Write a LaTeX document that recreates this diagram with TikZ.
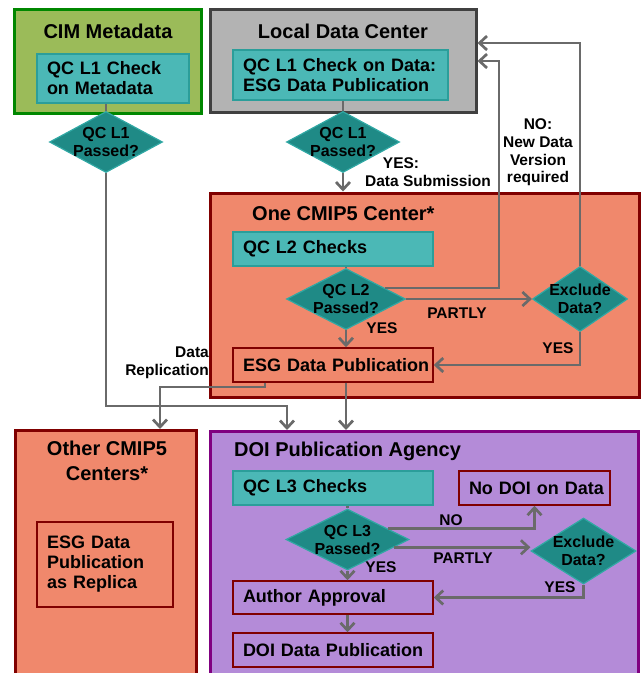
\documentclass[tikz,border=0pt]{standalone}
\usepackage{fontspec}
\setmainfont{Liberation Sans}
\usetikzlibrary{arrows.meta,calc,shapes.geometric}
\definecolor{cimfill}{RGB}{155,187,89}
\definecolor{cimdraw}{RGB}{0,135,0}
\definecolor{ldcfill}{RGB}{179,179,179}
\definecolor{ldcdraw}{RGB}{64,64,64}
\definecolor{qcfill}{RGB}{75,184,182}
\definecolor{qcdraw}{RGB}{43,158,154}
\definecolor{diafill}{RGB}{31,138,134}
\definecolor{diadraw}{RGB}{48,168,164}
\definecolor{salmon}{RGB}{240,136,108}
\definecolor{dred}{RGB}{128,0,0}
\definecolor{lav}{RGB}{180,139,216}
\definecolor{purp}{RGB}{128,0,128}
\definecolor{arrgray}{RGB}{106,106,106}
\begin{document}
\begin{tikzpicture}[x=1pt,y=-1pt,
  cont/.style={draw, line width=3pt, inner sep=0pt},
  title/.style={inner sep=0pt, font=\fontsize{20}{25}\selectfont\bfseries},
  boxbase/.style={line width=1.5pt, inner xsep=10pt, inner ysep=0pt, align=left,
    font=\fontsize{18}{20}\selectfont\bfseries},
  qcbox/.style={boxbase, draw=qcdraw, fill=qcfill},
  rbox/.style={boxbase, draw=dred},
  dia/.style={diamond, draw=diadraw, fill=diafill, line width=1.2pt, inner sep=0pt},
  dtxt/.style={inner sep=0pt, align=center, font=\fontsize{16}{18}\selectfont\bfseries},
  lbl/.style={inner sep=0pt, font=\fontsize{15.5}{17.7}\selectfont\bfseries},
  conn/.style={draw=arrgray, line width=2.7pt},
  arr/.style={conn, -{Straight Barb[length=7.5pt,width=14pt]}}]
\useasboundingbox (0,0) rectangle (641,673);
\clip (0,0) rectangle (641,673);

% containers
\node[cont, fill=cimfill, draw=cimdraw, minimum width=187pt, minimum height=104pt] (cim) at (107.5,61) {};
\node[title] (cimt) at (108,31) {CIM Metadata};
\node[cont, fill=ldcfill, draw=ldcdraw, minimum width=266pt, minimum height=103pt] (ldc) at (343,60.5) {};
\node[title] (ldct) at (343,31) {Local Data Center};
\node[cont, fill=salmon, draw=dred, minimum width=429pt, minimum height=204pt] (cmip) at (424.5,295) {};
\node[title, anchor=west] (cmipt) at (252,214) {One CMIP5 Center*};
\node[cont, fill=salmon, draw=dred, minimum width=181pt, minimum height=261pt, anchor=north] (other) at (105.5,429) {};
\node[title, align=center] (othert) at (107,461) {Other CMIP5\\Centers*};
\node[cont, fill=lav, draw=purp, minimum width=428pt, minimum height=260pt, anchor=north] (doi) at (424,430) {};
\node[title, anchor=west] (doit) at (234,451) {DOI Publication Agency};

% inner boxes
\node[qcbox, text width=132pt, minimum height=49pt] (qcm) at (113,78.5) {QC L1 Check\\on Metadata};
\node[qcbox, text width=195pt, minimum height=50pt] (qcd) at (340.5,75) {\mbox{QC L1 Check on Data:}\\\mbox{ESG Data Publication}};
\node[qcbox, text width=180pt, minimum height=34pt] (qc2) at (333,249) {QC L2 Checks};
\node[rbox, fill=salmon, text width=180pt, minimum height=34pt] (esg) at (333,365) {\mbox{ESG Data Publication}};
\node[rbox, fill=salmon, text width=116pt, minimum height=85pt] (esgr) at (105,564.5) {ESG Data\\Publication\\as Replica};
\node[qcbox, text width=180pt, minimum height=34pt] (qc3) at (333,488) {QC L3 Checks};
\node[rbox, fill=lav, text width=131pt, minimum height=34pt] (nodoi) at (534.5,488) {\mbox{No DOI on Data}};
\node[rbox, fill=lav, text width=180pt, minimum height=33pt] (auth) at (333,597.5) {Author Approval};
\node[rbox, fill=lav, text width=180pt, minimum height=34pt] (doipub) at (333,650) {\mbox{DOI Data Publication}};

% diamonds
\node[dia, minimum width=113pt, minimum height=61pt] (d1) at (106,142) {};
\node[dtxt] (d1t) at (d1) {QC L1\\Passed?};
\node[dia, minimum width=113pt, minimum height=61pt] (d2) at (343,142) {};
\node[dtxt] (d2t) at (d2) {QC L1\\Passed?};
\node[dia, minimum width=119pt, minimum height=61pt] (d3) at (346,299) {};
\node[dtxt] (d3t) at (d3) {QC L2\\Passed?};
\node[dia, minimum width=95pt, minimum height=65pt] (ex1) at (580,299) {};
\node[dtxt] (ex1t) at (ex1) {Exclude\\Data?};
\node[dia, minimum width=123pt, minimum height=61pt] (d4) at (347.5,539.5) {};
\node[dtxt] (d4t) at (d4) {QC L3\\Passed?};
\node[dia, minimum width=105pt, minimum height=66pt] (ex2) at (583.5,551) {};
\node[dtxt] (ex2t) at (ex2) {Exclude\\Data?};

% connectors
\coordinate (nv1) at (499,61);
\coordinate (nv2) at (580,43);
\coordinate (rp) at (160,387);
\coordinate (cp) at (287,406);
\coordinate (p3) at ($(d3.east)!0.35!(d3.north)$);
\coordinate (p4a) at ($(d4.east)!0.35!(d4.north)$);
\coordinate (p4b) at ($(d4.east)!0.25!(d4.south)$);

\draw[conn] (d1.north |- qcm.south) -- (d1.north);
\draw[conn] (d2.north |- qcd.south) -- (d2.north);
\draw[arr] (d2.south) -- (d2.south |- cmip.north);
\draw[conn] (d3.north |- qc2.south) -- (d3.north);
\draw[arr] (d3.south) -- (d3.south |- esg.north);
\draw[arr] (d3.east) -- (ex1.west);
\draw[arr] (p3) -| (nv1) -- (nv1 -| ldc.east);
\draw[arr] (ex1.north) -- (nv2) -- (nv2 -| ldc.east);
\draw[arr] (ex1.south) |- (esg.east);
\draw[arr] (esg.south -| d3.south) -- (d3.south |- doi.north);
\draw[arr] ([xshift=-68pt]esg.south) |- (rp) -- (rp |- other.north);
\draw[arr] (d1.south) |- (cp) -- (cp |- doi.north);
\draw[conn] (d4.north |- qc3.south) -- (d4.north);
\draw[arr] (d4.south) -- (d4.south |- auth.north);
\draw[arr] (p4a) -| (nodoi.south);
\draw[arr] (p4b) -- (p4b -| ex2.west);
\draw[arr] (ex2.south) |- (auth.east);
\draw[arr] (auth.south -| d4.south) -- (d4.south |- doipub.north);

% labels
\node[lbl] (l1) at (401,163) {YES:};
\node[lbl] (l2) at (428,181) {Data Submission};
\node[lbl, align=center] (l3) at (538,152.5) {NO:\\New Data\\Version\\required};
\node[lbl] (l4) at (382,328) {YES};
\node[lbl] (l5) at (457,313) {PARTLY};
\node[lbl] (l6) at (558,348) {YES};
\node[lbl, align=right, anchor=east] (l7) at (209,363) {Data\\Replication};
\node[lbl] (l8) at (451,520) {NO};
\node[lbl] (l9) at (463,558) {PARTLY};
\node[lbl] (l10) at (381,567) {YES};
\node[lbl] (l11) at (560,587) {YES};
\end{tikzpicture}
\end{document}
